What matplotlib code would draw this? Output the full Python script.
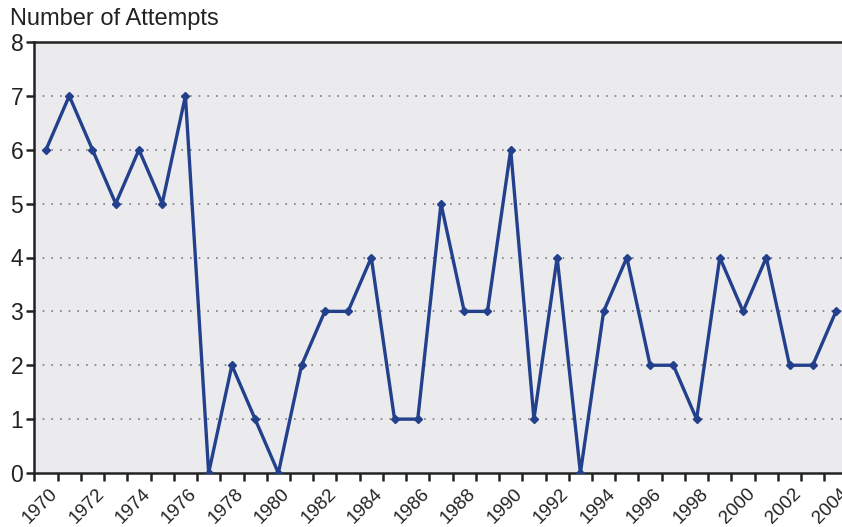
import matplotlib
matplotlib.use("Agg")
import matplotlib.pyplot as plt
import matplotlib.transforms as mtransforms
import numpy as np

plt.rcParams['font.family'] = ['Liberation Sans', 'DejaVu Sans']

years = list(range(1970, 2005))
attempts = [6, 7, 6, 5, 6, 5, 7, 0, 2, 1, 0, 2, 3, 3, 4, 1, 1, 5, 3, 3,
            6, 1, 4, 0, 3, 4, 2, 2, 1, 4, 3, 4, 2, 2, 3]
yticks = [0, 1, 2, 3, 4, 5, 6, 7, 8]
title = "Number of Attempts"

W, H = 842, 527
fig = plt.figure(figsize=(W / 100, H / 100), dpi=100)
left, right, top, bottom = 34.4, 847.6, 42, 473
ax = fig.add_axes([left / W, (H - bottom) / H, (right - left) / W, (bottom - top) / H])
ax.set_facecolor('#EBEBEE')

x = np.arange(len(years))
ax.plot(x, attempts, color='#22408C', lw=2.4, marker='D', ms=3.6, zorder=3)

ax.set_xlim(-0.5, len(years) - 0.5)
ax.set_ylim(0, 8)
ax.set_yticks(yticks)
ax.set_yticklabels([str(v) for v in yticks], fontsize=16.5)
for v in yticks[1:-1]:
    ax.axhline(v, color='#7a7a7a', lw=1.2, ls=(0, (1, 4.2)), zorder=1)

ax.set_xticks(x[::2])
ax.set_xticklabels([str(y) for y in years[::2]], rotation=45, ha='right', va='top',
                   rotation_mode='anchor', fontsize=13.5)
ax.set_xticks(np.arange(len(years) + 1) - 0.5, minor=True)
ax.tick_params(axis='x', which='major', length=0, pad=9)
ax.tick_params(axis='x', which='minor', length=6, width=1.8, direction='out', color='#222222')
ax.tick_params(axis='y', length=6, width=1.8, direction='out', pad=2, color='#222222')
offset = mtransforms.ScaledTranslation(3 / 100, 0, fig.dpi_scale_trans)
for lab in ax.get_xticklabels():
    lab.set_transform(lab.get_transform() + offset)
    lab.set_color('#222222')
for lab in ax.get_yticklabels():
    lab.set_color('#222222')

for s in ['left', 'bottom', 'top', 'right']:
    ax.spines[s].set_linewidth(1.8)
    ax.spines[s].set_color('#222222')

fig.text(10 / W, (H - 25) / H, title, fontsize=17, va='baseline', ha='left', color='#222222')

fig.savefig('out.png', dpi=100)
